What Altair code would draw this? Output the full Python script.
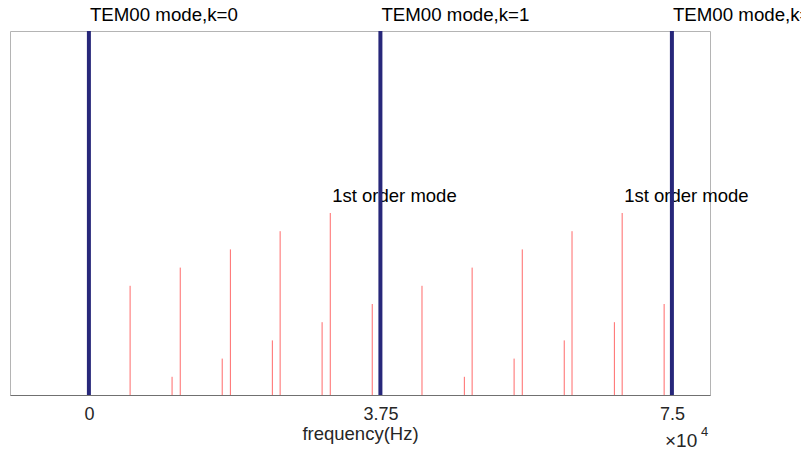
import altair as alt
import pandas as pd

# Data
side_freqs = [5300, 10700, 11750, 17150, 18200, 23600, 24600, 30000, 31050, 36450,
              42850, 48300, 49300, 54700, 55750, 61150, 62150, 67600, 68600, 74000]
side_amps = [0.30, 0.05, 0.35, 0.10, 0.40, 0.15, 0.45, 0.20, 0.50, 0.25,
             0.30, 0.05, 0.35, 0.10, 0.40, 0.15, 0.45, 0.20, 0.50, 0.25]
tem_freqs = [0, 37500, 75000]
tem_labels = ["TEM00 mode,k=0", "TEM00 mode,k=1", "TEM00 mode,k=2"]
first_order_freqs = [31050, 68600]
first_order_amps = [0.5, 0.5]
first_order_labels = ["1st order mode", "1st order mode"]
tick_values = [0, 37500, 75000]
tick_labels = ["0", "3.75", "7.5"]

FONT = "Liberation Sans"

side_df = pd.DataFrame({"f": side_freqs, "a": side_amps})
tem_df = pd.DataFrame({"f": tem_freqs, "label": tem_labels})
fo_df = pd.DataFrame({"f": first_order_freqs, "a": first_order_amps, "label": first_order_labels})

label_expr = " : ".join(
    [f"datum.value == {v} ? '{t}'" for v, t in zip(tick_values, tick_labels)]
) + " : ''"

xscale = alt.Scale(domain=[-10150, 79900], nice=False, zero=False)
yscale = alt.Scale(domain=[0, 1], nice=False)

xaxis = alt.Axis(
    values=tick_values,
    labelExpr=label_expr,
    title="frequency(Hz)",
    ticks=False,
    tickSize=0,
    grid=False,
    labelFont=FONT,
    labelFontSize=18,
    labelColor="#262626",
    labelPadding=10,
    labelFlush=False,
    titleFont=FONT,
    titleFontSize=18.5,
    titleFontWeight="normal",
    titleColor="#262626",
    titleBaseline="alphabetic",
    titleY=44,
    domainColor="#707070",
    domainWidth=1,
)

red = alt.Chart(side_df).mark_rule(color="#ff6a6a", strokeWidth=1).encode(
    x=alt.X("f:Q", scale=xscale, axis=xaxis),
    y=alt.Y("a:Q", scale=yscale, axis=None),
    y2=alt.datum(0),
)

fo_text = alt.Chart(fo_df).mark_text(
    align="left", baseline="alphabetic", dx=2, dy=-11,
    font=FONT, fontSize=18.5, color="black"
).encode(
    x=alt.X("f:Q", scale=xscale),
    y=alt.Y("a:Q", scale=yscale),
    text="label:N",
)

blue = alt.Chart(tem_df).mark_rule(color="#27277a", strokeWidth=4).encode(
    x=alt.X("f:Q", scale=xscale),
)

top_text = alt.Chart(tem_df).mark_text(
    align="left", baseline="alphabetic", dx=1,
    font=FONT, fontSize=18.7, color="black"
).encode(
    x=alt.X("f:Q", scale=xscale),
    y=alt.value(-10),
    text="label:N",
)

exp_df = pd.DataFrame({"t": ["\u00d710"]})
exp_df2 = pd.DataFrame({"t": ["4"]})
exp_text = alt.Chart(exp_df).mark_text(
    align="left", baseline="alphabetic", font=FONT, fontSize=19, color="#262626"
).encode(x=alt.value(655), y=alt.value(416), text="t:N")
exp_sup = alt.Chart(exp_df2).mark_text(
    align="left", baseline="alphabetic", font=FONT, fontSize=13, color="#262626"
).encode(x=alt.value(691), y=alt.value(405), text="t:N")

chart = alt.layer(red, fo_text, blue, top_text, exp_text, exp_sup).properties(
    width=700,
    height=364,
    autosize=alt.AutoSizeParams(type="none"),
    padding={"left": 10, "top": 31, "right": 91, "bottom": 59},
    background="white",
).configure_view(
    stroke="#b4b4b4",
    strokeWidth=1,
)

chart.save("out.html", embed_options={"renderer": "svg", "actions": False})
